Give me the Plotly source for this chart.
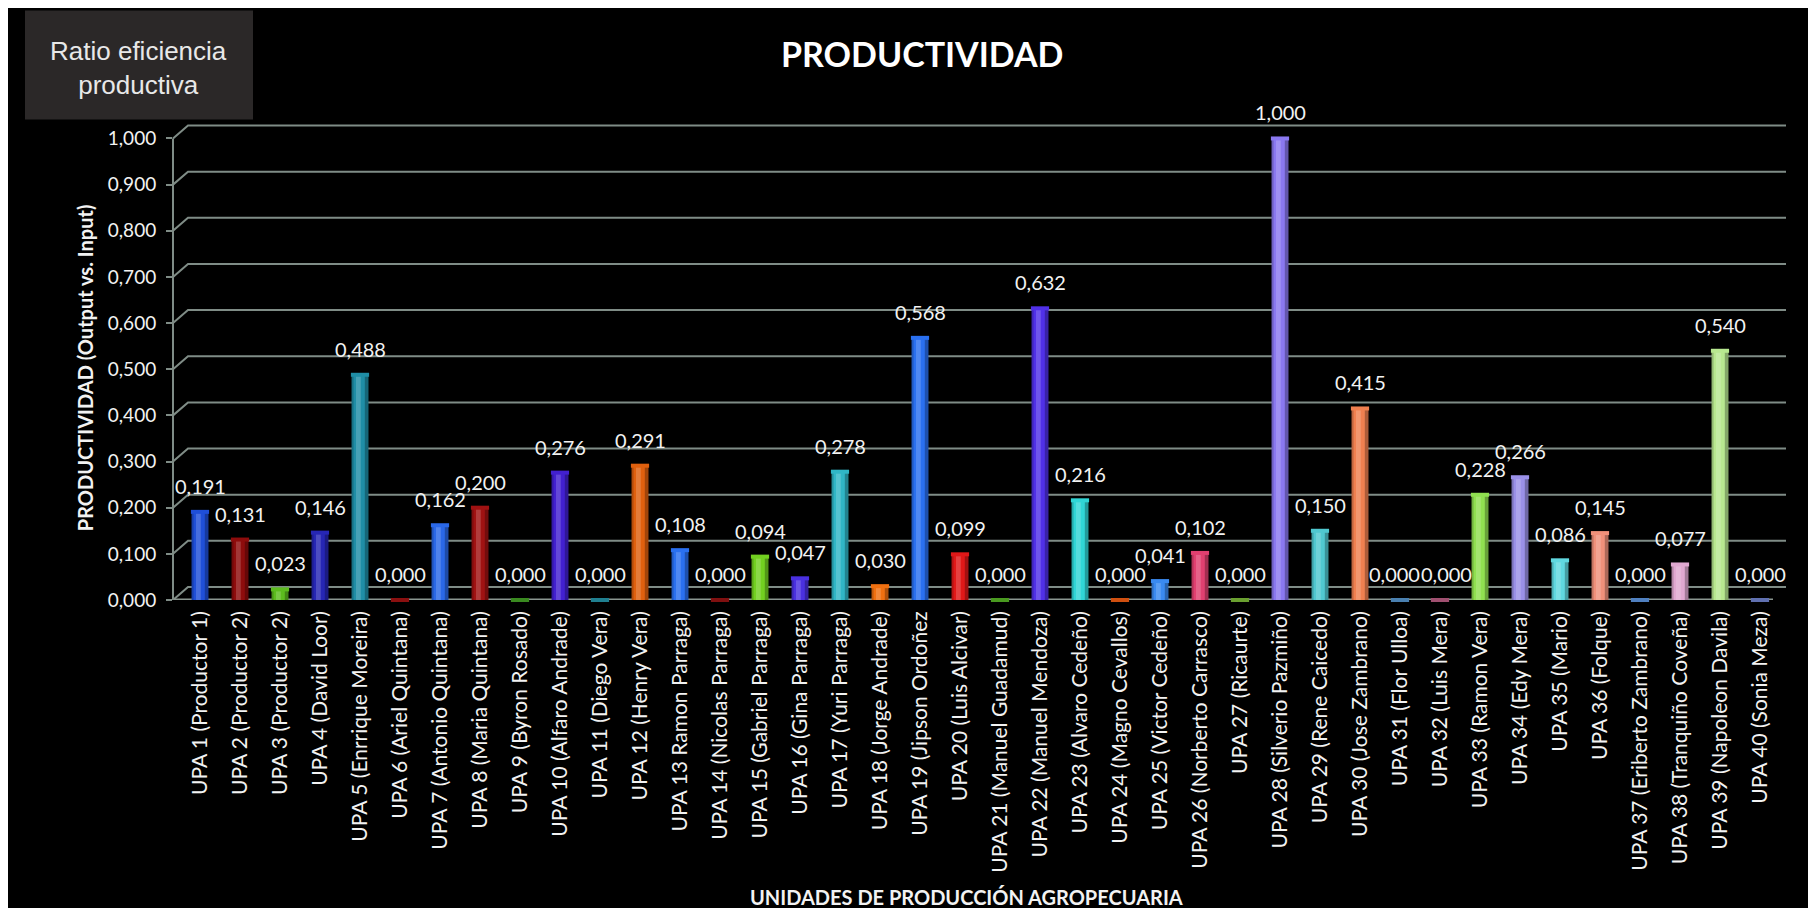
import plotly.graph_objects as go

categories = [
    "UPA 1 (Productor 1)", "UPA 2 (Productor 2)", "UPA 3 (Productor 2)", "UPA 4 (David Loor)",
    "UPA 5 (Enrrique Moreira)", "UPA 6 (Ariel Quintana)", "UPA 7 (Antonio Quintana)", "UPA 8 (Maria Quintana)",
    "UPA 9 (Byron Rosado)", "UPA 10 (Alfaro Andrade)", "UPA 11 (Diego Vera)", "UPA 12 (Henry Vera)",
    "UPA 13 Ramon Parraga)", "UPA 14 (Nicolas Parraga)", "UPA 15 (Gabriel Parraga)", "UPA 16 (Gina Parraga)",
    "UPA 17 (Yuri Parraga)", "UPA 18 (Jorge Andrade)", "UPA 19 (Jipson Ordoñez", "UPA 20 (Luis Alcivar)",
    "UPA 21 (Manuel Guadamud)", "UPA 22 (Manuel Mendoza)", "UPA 23 (Alvaro Cedeño)", "UPA 24 (Magno Cevallos)",
    "UPA 25 (Victor Cedeño)", "UPA 26 (Norberto Carrasco)", "UPA 27 (Ricaurte)", "UPA 28 (Silverio Pazmiño)",
    "UPA 29 (Rene Caicedo)", "UPA 30 (Jose Zambrano)", "UPA 31 (Flor Ulloa)", "UPA 32 (Luis Mera)",
    "UPA 33 (Ramon Vera)", "UPA 34 (Edy Mera)", "UPA 35 (Mario)", "UPA 36 (Folque)",
    "UPA 37 (Eriberto Zambrano)", "UPA 38 (Tranquiño Coveña)", "UPA 39 (Napoleon Davila)", "UPA 40 (Sonia Meza)",
]

values = [
    0.191, 0.131, 0.023, 0.146, 0.488, 0.000, 0.162, 0.200, 0.000, 0.276,
    0.000, 0.291, 0.108, 0.000, 0.094, 0.047, 0.278, 0.030, 0.568, 0.099,
    0.000, 0.632, 0.216, 0.000, 0.041, 0.102, 0.000, 1.000, 0.150, 0.415,
    0.000, 0.000, 0.228, 0.266, 0.086, 0.145, 0.000, 0.077, 0.540, 0.000,
]

colors = [
    "#1f4fd8", "#8e0c0c", "#5cbc1e", "#2626b4", "#1f8ea6", "#8b1010", "#2a68e8", "#a01212",
    "#3a8a20", "#4220d0", "#1f7f90", "#e0600e", "#2a70f0", "#801010", "#72d020", "#4a30e0",
    "#30b6c6", "#f07010", "#2a70f0", "#e01818", "#4a9a20", "#5030e8", "#30d6d6", "#d05010",
    "#3a8af0", "#e04070", "#6aa030", "#8a78f0", "#50c8d0", "#f08050", "#4a80b0", "#a05070",
    "#90e050", "#9a90e8", "#60d8e0", "#f0907a", "#5080c0", "#e0a8d0", "#b8e890", "#6070b0",
]

y_ticks = [0.0, 0.1, 0.2, 0.3, 0.4, 0.5, 0.6, 0.7, 0.8, 0.9, 1.0]

title_text = "PRODUCTIVIDAD"
box_text = "Ratio eficiencia<br>productiva"
y_title = "PRODUCTIVIDAD (Output vs. Input)"
x_title = "UNIDADES DE PRODUCCIÓN AGROPECUARIA"

# ---- layout geometry (figure pixels) ----
W, H = 1800, 900
L, R, B = 165, 1778, 592
UNIT = 462.0          # pixels per 1.0 on the value axis
YMAX = 1.04           # room for the back-wall grid line of 1,000
T = B - YMAX * UNIT
PW, PH = R - L, B - T
DEPTH_X, DEPTH_Y = 15, 13   # pseudo-3D depth of the back wall


def px(x):
    return (x - L) / PW


def py(y):
    return (B - y) / PH


def fmt(v):
    return f"{v:.3f}".replace(".", ",")


FONT = "Lato"
GRID = "#7f8c86"
TXT = "#f2f2f2"

fig = go.Figure()
# cylinder body
fig.add_trace(go.Bar(
    x=categories, y=values, width=0.42, offset=-0.21,
    marker=dict(color=colors, line=dict(width=0)), hoverinfo="x+y",
))
# shading to suggest the cylinder shape
fig.add_trace(go.Bar(
    x=categories, y=values, width=0.05, offset=-0.21,
    marker=dict(color="rgba(0,0,0,0.20)", line=dict(width=0)), hoverinfo="skip",
))
fig.add_trace(go.Bar(
    x=categories, y=values, width=0.12, offset=-0.10,
    marker=dict(color="rgba(255,255,255,0.18)", line=dict(width=0)), hoverinfo="skip",
))
fig.add_trace(go.Bar(
    x=categories, y=values, width=0.09, offset=0.12,
    marker=dict(color="rgba(0,0,0,0.28)", line=dict(width=0)), hoverinfo="skip",
))
# cylinder caps (also the flat discs of the zero-valued units)
fig.add_trace(go.Scatter(
    x=categories, y=values, mode="markers", hoverinfo="skip",
    marker=dict(symbol="line-ew", size=13, line=dict(color=colors, width=4)),
    cliponaxis=False,
))

annotations = []
zero_pairs = set()
for i in range(len(values) - 1):
    if values[i] == 0 and values[i + 1] == 0:
        zero_pairs.add((i, -6))
        zero_pairs.add((i + 1, 6))
shift = {i: s for i, s in zero_pairs}
for i, (c, v) in enumerate(zip(categories, values)):
    annotations.append(dict(
        x=c, y=v, xref="x", yref="y", text=fmt(v), showarrow=False,
        yshift=26, xshift=shift.get(i, 0), yanchor="middle", xanchor="center",
        font=dict(family=FONT, size=20, color=TXT),
    ))

annotations += [
    dict(x=px(914), y=py(45), xref="paper", yref="paper", text=f"<b>{title_text}</b>",
         showarrow=False, xanchor="center", yanchor="middle",
         font=dict(family=FONT, size=34, color="#ffffff")),
    dict(x=px(130), y=py(59), xref="paper", yref="paper", text=box_text,
         showarrow=False, xanchor="center", yanchor="middle", align="center",
         font=dict(family="Liberation Sans", size=26, color="#e8e8e8")),
    dict(x=px(77), y=py(360), xref="paper", yref="paper", text=f"<b>{y_title}</b>",
         showarrow=False, xanchor="center", yanchor="middle", textangle=-90,
         font=dict(family=FONT, size=20, color=TXT)),
    dict(x=px(958), y=py(889), xref="paper", yref="paper", text=f"<b>{x_title}</b>",
         showarrow=False, xanchor="center", yanchor="middle",
         font=dict(family=FONT, size=20, color=TXT)),
]

shapes = [
    dict(type="rect", xref="paper", yref="paper",
         x0=px(17), x1=px(245), y0=py(111), y1=py(2),
         fillcolor="#2b2828", line=dict(width=0), layer="below"),
]
dy = DEPTH_Y / UNIT
dx = DEPTH_X / PW
for v in y_ticks:
    shapes.append(dict(
        type="path", xref="paper", yref="y",
        path=f"M 0,{v} L {dx},{v + dy} L 1,{v + dy}",
        line=dict(color=GRID, width=2), layer="below",
    ))
# front floor line and front value axis
shapes.append(dict(type="line", xref="paper", yref="y",
                   x0=0, x1=px(1765), y0=0, y1=0,
                   line=dict(color="#8a9690", width=3), layer="below"))
shapes.append(dict(type="line", xref="paper", yref="y",
                   x0=0, x1=0, y0=0, y1=y_ticks[-1],
                   line=dict(color=GRID, width=2), layer="below"))

fig.update_layout(
    width=W, height=H,
    margin=dict(l=L, r=W - R, t=T, b=H - B, pad=0),
    paper_bgcolor="#000000", plot_bgcolor="#000000",
    separators=",.",
    showlegend=False,
    barmode="overlay",
    annotations=annotations,
    shapes=shapes,
    font=dict(family=FONT, color=TXT),
    xaxis=dict(
        type="category",
        range=[-0.675, 39.65],
        tickangle=-90,
        tickfont=dict(family=FONT, size=21, color=TXT),
        showgrid=False, showline=False,
        ticks="", ticklabelstandoff=6,
        zeroline=False,
    ),
    yaxis=dict(
        range=[0, YMAX],
        tickvals=y_ticks,
        tickformat=".3f",
        tickfont=dict(family=FONT, size=19, color=TXT),
        showgrid=False, showline=False,
        ticks="outside", ticklen=6, tickcolor=GRID, tickwidth=2,
        ticklabelstandoff=6,
        zeroline=False,
    ),
)

fig.write_html("out.html")
